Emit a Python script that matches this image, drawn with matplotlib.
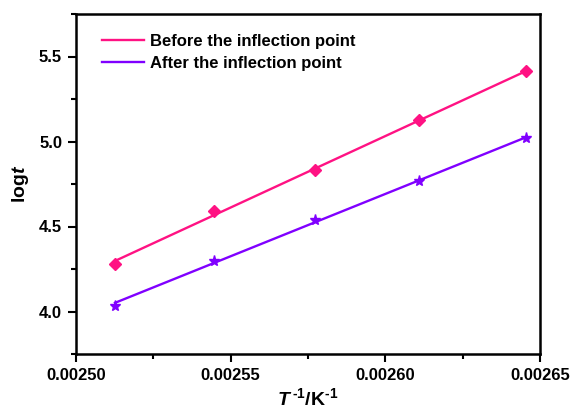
import numpy as np
import matplotlib
matplotlib.use("Agg")
import matplotlib.pyplot as plt
from matplotlib.ticker import MultipleLocator

plt.rcParams['font.family'] = ['Liberation Sans', 'DejaVu Sans']
plt.rcParams['font.weight'] = 'bold'
plt.rcParams['mathtext.fontset'] = 'custom'
plt.rcParams['mathtext.it'] = 'Liberation Sans:italic:bold'
plt.rcParams['mathtext.rm'] = 'Liberation Sans:bold'
plt.rcParams['mathtext.bf'] = 'Liberation Sans:bold'

# Reciprocal temperature (1/K) and log of time
inv_T = [0.0025126, 0.0025445, 0.0025773, 0.0026110, 0.0026455]
log_t_before = [4.281, 4.592, 4.834, 5.124, 5.412]
log_t_after = [4.034, 4.300, 4.539, 4.765, 5.020]

label_before = "Before the inflection point"
label_after = "After the inflection point"
color_before = "#FF1283"
color_after = "#8000FF"

fig = plt.figure(figsize=(5.72, 4.12), dpi=100)
ax = fig.add_axes([76 / 572, 1 - 354 / 412, (540 - 76) / 572, (354 - 14) / 412])

x = np.array(inv_T)
xfit = np.array([x.min(), x.max()])
for y, c, m, ms, lab in [
    (log_t_before, color_before, 'D', 6.5, label_before),
    (log_t_after, color_after, '*', 8, label_after),
]:
    k, b = np.polyfit(x, y, 1)
    ax.plot(xfit, k * xfit + b, color=c, lw=1.7, label=lab)
    ax.plot(x, y, linestyle='none', marker=m, ms=ms, color=c, mec=c)

ax.set_xlim(0.00250, 0.00265)
ax.set_ylim(3.75, 5.75)
ax.xaxis.set_major_locator(MultipleLocator(0.00005))
ax.xaxis.set_minor_locator(MultipleLocator(0.000025))
ax.yaxis.set_major_locator(MultipleLocator(0.5))
ax.yaxis.set_minor_locator(MultipleLocator(0.25))
ax.xaxis.set_major_formatter(plt.FuncFormatter(lambda v, p: f"{v:.5f}"))
ax.yaxis.set_major_formatter(plt.FuncFormatter(lambda v, p: f"{v:.1f}"))

for s in ax.spines.values():
    s.set_linewidth(1.8)
ax.tick_params(which='major', direction='out', length=6, width=1.5,
               labelsize=12, top=False, right=False, pad=4)
ax.tick_params(which='minor', direction='out', length=3.5, width=1.5,
               top=False, right=False)
for lbl in ax.get_xticklabels() + ax.get_yticklabels():
    lbl.set_fontweight('bold')

ax.set_xlabel(r"$T^{\,\text{-}1}$/K$^{\text{-}1}$", fontsize=14, fontweight='bold', labelpad=3)
ax.set_ylabel(r"log$t$", fontsize=14, fontweight='bold', labelpad=6)

leg = ax.legend(loc='upper left', bbox_to_anchor=(0.056, 0.942), frameon=False,
                fontsize=12, handlelength=2.5, borderaxespad=0.0,
                labelspacing=0.45, handletextpad=0.4, borderpad=0.0)
for t in leg.get_texts():
    t.set_fontweight('bold')

fig.savefig("out.png", dpi=100)
